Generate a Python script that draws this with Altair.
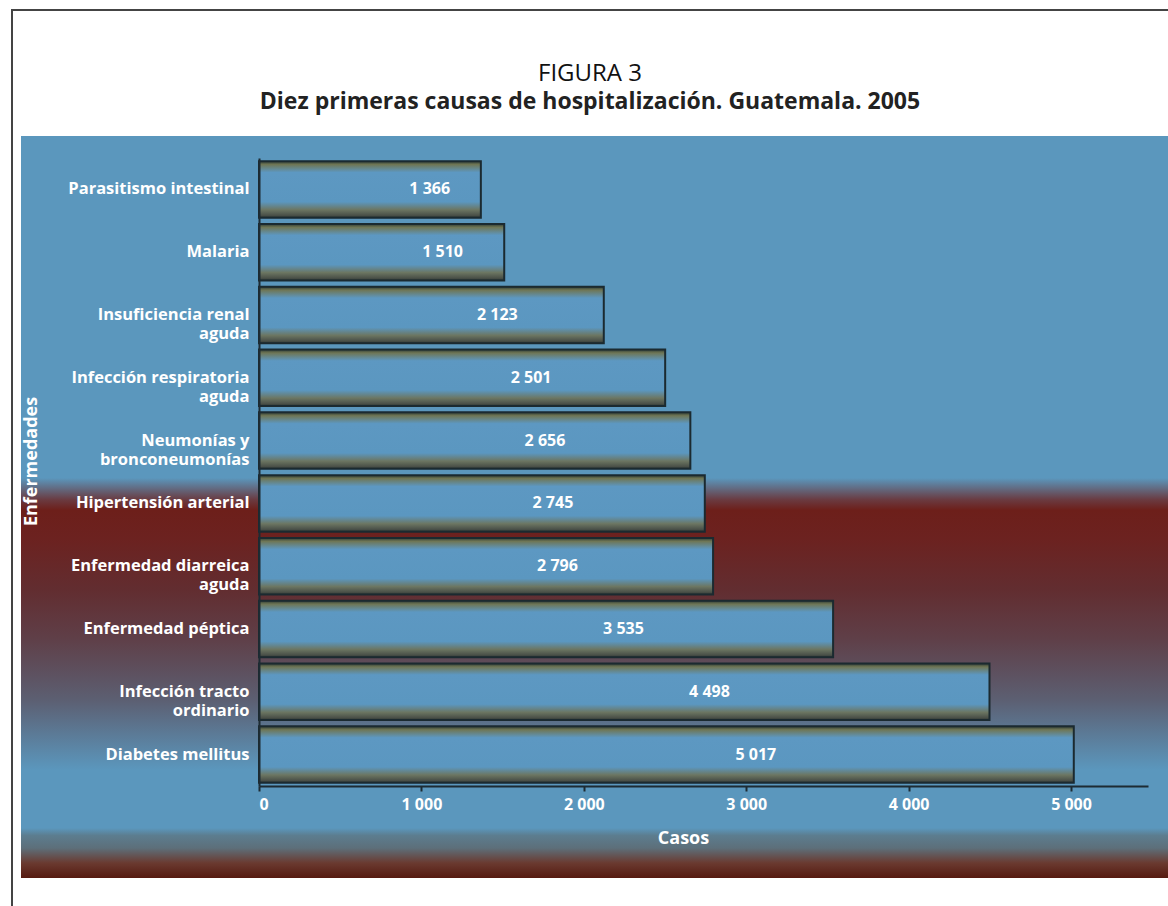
import altair as alt
import pandas as pd

# Hospitalisation causes (top to bottom) and number of cases
causas = [
    "Parasitismo intestinal",
    "Malaria",
    "Insuficiencia renal\naguda",
    "Infección respiratoria\naguda",
    "Neumonías  y\nbronconeumonías",
    "Hipertensión arterial",
    "Enfermedad diarreica\naguda",
    "Enfermedad péptica",
    "Infección tracto\nordinario",
    "Diabetes mellitus",
]
casos = [1366, 1510, 2123, 2501, 2656, 2745, 2796, 3535, 4498, 5017]
x_ticks = [0, 1000, 2000, 3000, 4000, 5000]

df = pd.DataFrame({"causa": causas, "casos": casos})

FONT = "Open Sans"
W, H = 889, 628
PAD_L, PAD_T = 259, 158
blank = alt.Data(values=[{}])


def grad(stops):
    return alt.Gradient(
        gradient="linear",
        stops=[alt.GradientStop(color=c, offset=o) for o, c in stops],
        x1=0, x2=0, y1=0, y2=1,
    )


def box(mark, x0, x1, y0, y1):
    # decoration rectangle given in page pixels
    return alt.Chart(blank).mark_rect(**mark).encode(
        x=alt.value(x0 - PAD_L), x2=alt.value(x1 - PAD_L),
        y=alt.value(y0 - PAD_T), y2=alt.value(y1 - PAD_T),
    )


frame = box(dict(fill="white", stroke="#444444", strokeWidth=2), 12, 1200, 10, 940)
panel = box(dict(color="#5b97bd"), 21, 1168, 136, 878)
red_band = box(dict(color=grad([
    (0.0, "#5b97bd"), (0.075, "#6a3a40"), (0.11, "#6d1f1a"), (0.21, "#6c2220"),
    (0.38, "#622d30"), (0.55, "#5f3f48"), (0.76, "#5c5f72"), (1.0, "#5b97bd"),
])), 21, 1168, 478, 770)
bottom_band = box(dict(color=grad([
    (0.0, "#5b97bd"), (0.15, "#5c7d8f"), (0.4, "#5d6f7a"), (0.7, "#6a3a30"), (1.0, "#561a10"),
])), 21, 1168, 828, 878)

y_enc = alt.Y(
    "causa:N", sort=causas,
    scale=alt.Scale(paddingInner=0.1, paddingOuter=0.05),
    axis=alt.Axis(
        title="Enfermedades", titleFont=FONT, titleFontSize=18, titleFontWeight="bold",
        titleColor="white", titleX=-219, titleY=303, titleAngle=-90, titleBaseline="bottom",
        labelExpr="split(datum.label, '\\n')", labelFont=FONT, labelFontSize=16.5,
        labelFontWeight="bold", labelColor="white", labelLineHeight=19,
        labelPadding=10, ticks=False, domainColor="#1d2b33", domainWidth=2,
        labelLimit=300, zindex=1,
    ),
)
x_enc = alt.X(
    "casos:Q",
    scale=alt.Scale(domain=[0, 5474], nice=False),
    axis=alt.Axis(
        values=x_ticks, grid=False, title="Casos", titleFont=FONT, titleFontSize=18,
        titleFontWeight="bold", titleColor="white", titleX=424, titleY=52,
        titleBaseline="middle",
        labelExpr="replace(format(datum.value, ','), ',', ' ')",
        labelFont=FONT, labelFontSize=16, labelFontWeight="bold", labelColor="white",
        labelPadding=5, tickColor="#1d2b33", tickSize=5, tickWidth=2,
        domainColor="#1d2b33", domainWidth=2, zindex=1,
    ),
)

bars = alt.Chart(df).mark_bar(
    stroke="#1b2a30", strokeWidth=2,
    color=grad([
        (0.0, "#2e3b34"), (0.06, "#6f7655"), (0.2, "#5d98c2"), (0.72, "#5b97c0"),
        (0.86, "#6c7662"), (0.96, "#4a5048"), (1.0, "#2a3430"),
    ]),
).encode(x=x_enc, y=y_enc)

# value label sits a little right of the bar's middle
values = alt.Chart(df).transform_calculate(
    pos="datum.casos * 0.55 + 300",
    txt="replace(format(datum.casos, ','), ',', ' ')",
).mark_text(
    font=FONT, fontSize=16, fontWeight="bold", color="white", baseline="middle",
).encode(x="pos:Q", y=alt.Y("causa:N", sort=causas), text="txt:N")

title1 = alt.Chart(blank).mark_text(
    text="FIGURA 3", font=FONT, fontSize=24, color="#111111", baseline="middle",
).encode(x=alt.value(590 - PAD_L), y=alt.value(74 - PAD_T))
title2 = alt.Chart(blank).mark_text(
    text="Diez primeras causas de hospitalización. Guatemala. 2005",
    font=FONT, fontSize=23, fontWeight="bold", color="#222222", baseline="middle",
).encode(x=alt.value(590 - PAD_L), y=alt.value(102 - PAD_T))

chart = alt.layer(
    frame, panel, red_band, bottom_band, bars, values, title1, title2
).properties(
    width=W, height=H,
    padding={"left": PAD_L, "top": PAD_T, "right": 1168 - PAD_L - W, "bottom": 906 - PAD_T - H},
    autosize=alt.AutoSizeParams(type="none"),
    background="white",
).configure_view(stroke=None)

chart.save("out.html", embed_options={"renderer": "svg", "actions": False})
